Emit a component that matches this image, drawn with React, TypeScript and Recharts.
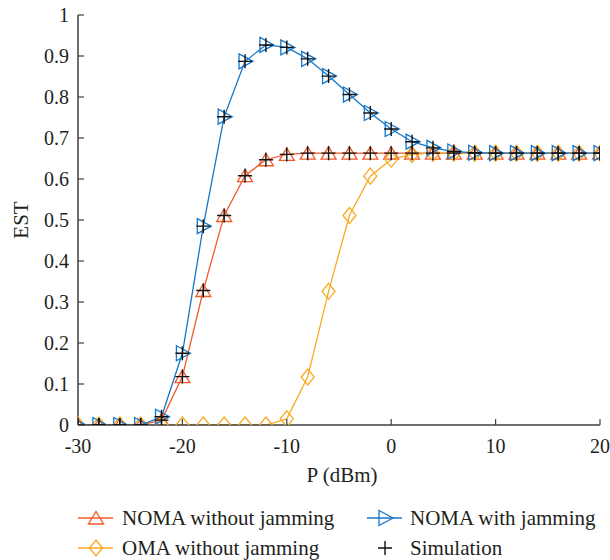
import React from 'react';
import { ComposedChart, Line, XAxis, YAxis, Label } from 'recharts';

const P = [-30, -28, -26, -24, -22, -20, -18, -16, -14, -12, -10, -8, -6, -4, -2, 0, 2, 4, 6, 8, 10, 12, 14, 16, 18, 20];
const nomaNoJam = [0, 0, 0, 0, 0.012, 0.118, 0.328, 0.511, 0.608, 0.647, 0.66, 0.663, 0.663, 0.663, 0.663, 0.663, 0.663, 0.663, 0.663, 0.663, 0.663, 0.663, 0.663, 0.663, 0.663, 0.663];
const nomaJam = [0, 0, 0, 0, 0.02, 0.175, 0.485, 0.752, 0.887, 0.927, 0.921, 0.893, 0.851, 0.806, 0.761, 0.722, 0.691, 0.676, 0.667, 0.664, 0.663, 0.663, 0.663, 0.663, 0.663, 0.663];
const omaNoJam = [0, 0, 0, 0, 0, 0, 0, 0, 0, 0, 0.015, 0.117, 0.326, 0.511, 0.607, 0.648, 0.66, 0.663, 0.663, 0.663, 0.663, 0.663, 0.663, 0.663, 0.663, 0.663];

const xTicks = [-30, -20, -10, 0, 10, 20];
const yTicks = [0, 0.1, 0.2, 0.3, 0.4, 0.5, 0.6, 0.7, 0.8, 0.9, 1];

const seriesNames = ['NOMA without jamming', 'NOMA with jamming', 'OMA without jamming', 'Simulation'];

const RED = '#F15A2B';
const BLUE = '#1677C8';
const YELLOW = '#F9AA1F';
const FRAME = '#3f3f3f';
const TEXT = '#231F20';
const FONT = "'Liberation Serif', 'Times New Roman', serif";
const textStyle = { fontFamily: FONT, fontSize: 21 };
const tickStyle = { fontFamily: FONT, fontSize: 20 };

const data = P.map((p, i) => ({ p, noma: nomaNoJam[i], jam: nomaJam[i], oma: omaNoJam[i], simNoma: nomaNoJam[i], simJam: nomaJam[i] }));

const TriUp = (color: string) => (props: any) => {
  const { cx, cy, index } = props;
  if (cx == null || cy == null) return <g key={index} />;
  return <path key={index} d={`M${cx},${cy - 6.5} L${cx - 7.5},${cy + 6} L${cx + 7.5},${cy + 6} Z`} fill="none" stroke={color} strokeWidth={1.3} />;
};
const TriRight = (color: string) => (props: any) => {
  const { cx, cy, index } = props;
  if (cx == null || cy == null) return <g key={index} />;
  return <path key={index} d={`M${cx - 6},${cy - 7.5} L${cx - 6},${cy + 7.5} L${cx + 8},${cy} Z`} fill="none" stroke={color} strokeWidth={1.3} />;
};
const Diamond = (color: string) => (props: any) => {
  const { cx, cy, index } = props;
  if (cx == null || cy == null) return <g key={index} />;
  return <path key={index} d={`M${cx},${cy - 8} L${cx + 6.5},${cy} L${cx},${cy + 8} L${cx - 6.5},${cy} Z`} fill="none" stroke={color} strokeWidth={1.3} />;
};
const Plus = (props: any) => {
  const { cx, cy, index } = props;
  if (cx == null || cy == null) return <g key={index} />;
  return <path key={index} d={`M${cx - 7},${cy} L${cx + 7},${cy} M${cx},${cy - 7} L${cx},${cy + 7}`} fill="none" stroke="#111" strokeWidth={1.4} />;
};

const BottomTick = (props: any) => {
  const { x, y, payload } = props;
  return (
    <g>
      <line x1={x} y1={y} x2={x} y2={y - 6} stroke={FRAME} strokeWidth={1.2} />
      <text x={x} y={y + 21} dy="0.35em" textAnchor="middle" style={tickStyle} fill={TEXT}>{payload.value}</text>
    </g>
  );
};
const TopTick = (props: any) => {
  const { x, y } = props;
  return <line x1={x} y1={y} x2={x} y2={y + 6} stroke={FRAME} strokeWidth={1.2} />;
};
const LeftTick = (props: any) => {
  const { x, y, payload } = props;
  return (
    <g>
      <line x1={x} y1={y} x2={x + 6} y2={y} stroke={FRAME} strokeWidth={1.2} />
      <text x={x - 9} y={y} dy="0.35em" textAnchor="end" style={tickStyle} fill={TEXT}>{String(payload.value)}</text>
    </g>
  );
};
const RightTick = (props: any) => {
  const { x, y } = props;
  return <line x1={x} y1={y} x2={x - 6} y2={y} stroke={FRAME} strokeWidth={1.2} />;
};

const XLabel = (props: any) => {
  const vb = props.viewBox;
  const cx = vb.x + vb.width / 2 + 3;
  return <text x={cx} y={vb.y + 50} dy="0.35em" textAnchor="middle" style={textStyle} fill={TEXT}>P (dBm)</text>;
};
const YLabel = (props: any) => {
  const vb = props.viewBox;
  const x = vb.x + 21;
  const y = vb.y + vb.height / 2;
  return <text x={x} y={y} dy="0.35em" transform={`rotate(-90 ${x} ${y})`} textAnchor="middle" style={textStyle} fill={TEXT}>EST</text>;
};

const LegendIcon = ({ kind, color, x, y }: any) => {
  if (kind === 'plus') {
    return <path d={`M${x - 7},${y} L${x + 7},${y} M${x},${y - 7} L${x},${y + 7}`} stroke="#111" strokeWidth={1.4} fill="none" />;
  }
  let marker = null;
  if (kind === 'up') marker = <path d={`M${x},${y - 6.5} L${x - 7.5},${y + 6} L${x + 7.5},${y + 6} Z`} fill="none" stroke={color} strokeWidth={1.3} />;
  if (kind === 'right') marker = <path d={`M${x - 6},${y - 7.5} L${x - 6},${y + 7.5} L${x + 8},${y} Z`} fill="none" stroke={color} strokeWidth={1.3} />;
  if (kind === 'diamond') marker = <path d={`M${x},${y - 8} L${x + 6.5},${y} L${x},${y + 8} L${x - 6.5},${y} Z`} fill="none" stroke={color} strokeWidth={1.3} />;
  return (
    <g>
      <line x1={x - 18} y1={y} x2={x + 17} y2={y} stroke={color} strokeWidth={1.3} />
      {marker}
    </g>
  );
};

const legendItems = [
  { name: seriesNames[0], kind: 'up', color: RED, col: 0, row: 0 },
  { name: seriesNames[1], kind: 'right', color: BLUE, col: 1, row: 0 },
  { name: seriesNames[2], kind: 'diamond', color: YELLOW, col: 0, row: 1 },
  { name: seriesNames[3], kind: 'plus', color: '#111', col: 1, row: 1 },
];

const ChartLegend = () => (
  <svg width={610} height={60} style={{ position: 'absolute', left: 0, top: 500 }}>
    {legendItems.map((it) => {
      const iconX = it.col === 0 ? 96 : 385;
      const textX = it.col === 0 ? 122 : 410;
      const y = it.row === 0 ? 18 : 48;
      return (
        <g key={it.name}>
          <LegendIcon kind={it.kind} color={it.color} x={iconX} y={y} />
          <text x={textX} y={y} dy="0.35em" style={textStyle} fill={TEXT}>{it.name}</text>
        </g>
      );
    })}
  </svg>
);

export default function App() {
  return (
    <div style={{ position: 'absolute', left: 0, top: 0, width: 610, height: 560, background: '#fff' }}>
      <ComposedChart width={610} height={560} data={data} margin={{ top: 15, right: 10, bottom: 75, left: 0 }}>
        <XAxis xAxisId="b" dataKey="p" type="number" domain={[-30, 20]} ticks={xTicks} interval={0} orientation="bottom" height={60}
          tickSize={0} tickMargin={0} tickLine={false} tick={<BottomTick />} axisLine={{ stroke: FRAME, strokeWidth: 1.5 }} allowDataOverflow>
          <Label content={<XLabel />} />
        </XAxis>
        <XAxis xAxisId="t" dataKey="p" type="number" domain={[-30, 20]} ticks={xTicks} interval={0} orientation="top" height={0}
          tickSize={0} tickMargin={0} tickLine={false} tick={<TopTick />} axisLine={{ stroke: FRAME, strokeWidth: 1.5 }} allowDataOverflow />
        <YAxis yAxisId="l" type="number" domain={[0, 1]} ticks={yTicks} interval={0} orientation="left" width={78}
          tickSize={0} tickMargin={0} tickLine={false} tick={<LeftTick />} axisLine={{ stroke: FRAME, strokeWidth: 1.5 }} allowDataOverflow>
          <Label content={<YLabel />} />
        </YAxis>
        <YAxis yAxisId="r" type="number" domain={[0, 1]} ticks={yTicks} interval={0} orientation="right" width={0}
          tickSize={0} tickMargin={0} tickLine={false} tick={<RightTick />} axisLine={{ stroke: FRAME, strokeWidth: 1.5 }} allowDataOverflow />
        <Line xAxisId="b" yAxisId="l" type="linear" dataKey="noma" name={seriesNames[0]} stroke={RED} strokeWidth={1.3} dot={TriUp(RED)} isAnimationActive={false} />
        <Line xAxisId="b" yAxisId="l" type="linear" dataKey="oma" name={seriesNames[2]} stroke={YELLOW} strokeWidth={1.3} dot={Diamond(YELLOW)} isAnimationActive={false} />
        <Line xAxisId="b" yAxisId="l" type="linear" dataKey="jam" name={seriesNames[1]} stroke={BLUE} strokeWidth={1.3} dot={TriRight(BLUE)} isAnimationActive={false} />
        <Line xAxisId="b" yAxisId="l" type="linear" dataKey="simNoma" name={seriesNames[3]} stroke="none" dot={Plus} isAnimationActive={false} />
        <Line xAxisId="b" yAxisId="l" type="linear" dataKey="simJam" name={seriesNames[3]} stroke="none" dot={Plus} isAnimationActive={false} />
      </ComposedChart>
      <ChartLegend />
    </div>
  );
}
